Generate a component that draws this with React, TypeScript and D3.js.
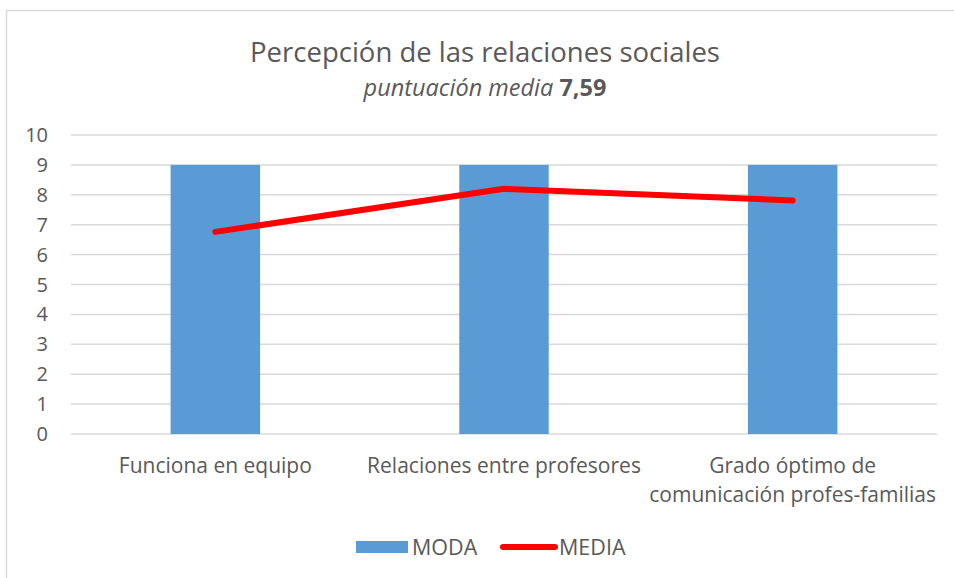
import React, { useEffect, useRef } from 'react'
import * as d3 from 'd3'

const categories = ['Funciona en equipo', 'Relaciones entre profesores', 'Grado óptimo de\ncomunicación profes-familias']
const moda = [9, 9, 9]
const media = [6.76, 8.2, 7.81]
const yTicks = [0, 1, 2, 3, 4, 5, 6, 7, 8, 9, 10]

const W = 954
const H = 578
const FONT = '"Open Sans", sans-serif'

export default function App () {
  const ref = useRef<SVGSVGElement>(null)

  useEffect(() => {
    const svg = d3.select(ref.current)
    svg.selectAll('*').remove()

    const margin = { top: 135, right: 17, bottom: 144, left: 71 }
    const innerW = W - margin.left - margin.right
    const innerH = H - margin.top - margin.bottom

    // chart frame (only top/left edges visible in original)
    svg.append('rect')
      .attr('x', 6.5).attr('y', 10.5)
      .attr('width', W + 10).attr('height', H + 10)
      .attr('fill', '#fff').attr('stroke', '#d9d9d9').attr('stroke-width', 1.5)

    svg.append('text')
      .attr('x', 485).attr('y', 62)
      .attr('text-anchor', 'middle')
      .attr('font-family', FONT).attr('font-size', 27.5)
      .attr('fill', '#595959')
      .text('Percepción de las relaciones sociales')

    const sub = svg.append('text')
      .attr('x', 485).attr('y', 96)
      .attr('text-anchor', 'middle')
      .attr('font-family', FONT).attr('font-size', 23.5)
      .attr('fill', '#595959')
    sub.append('tspan').attr('font-style', 'italic').text('puntuación media ')
    sub.append('tspan').attr('font-weight', 'bold').text('7,59')

    const g = svg.append('g').attr('transform', `translate(${margin.left},${margin.top})`)

    const x = d3.scaleBand().domain(categories).range([0, innerW]).paddingInner(0.69).paddingOuter(0.345)
    const y = d3.scaleLinear().domain([0, 10]).range([innerH, 0])

    g.selectAll('.grid')
      .data(yTicks)
      .enter()
      .append('line')
      .attr('x1', 0).attr('x2', innerW)
      .attr('y1', d => y(d)).attr('y2', d => y(d))
      .attr('stroke', '#d9d9d9').attr('stroke-width', 1.5)

    g.selectAll('.ytick')
      .data(yTicks)
      .enter()
      .append('text')
      .attr('x', -23).attr('y', d => y(d))
      .attr('dy', '0.35em')
      .attr('text-anchor', 'end')
      .attr('font-family', FONT).attr('font-size', 20)
      .attr('fill', '#595959')
      .text(d => d)

    g.selectAll('.bar')
      .data(moda)
      .enter()
      .append('rect')
      .attr('x', (d, i) => x(categories[i]) as number)
      .attr('y', d => y(d))
      .attr('width', x.bandwidth())
      .attr('height', d => innerH - y(d))
      .attr('fill', '#5b9bd5')

    const cx = (i: number) => (x(categories[i]) as number) + x.bandwidth() / 2
    const line = d3.line<number>().x((d, i) => cx(i)).y(d => y(d))
    g.append('path')
      .datum(media)
      .attr('d', line)
      .attr('fill', 'none')
      .attr('stroke', '#ff0000')
      .attr('stroke-width', 6)
      .attr('stroke-linecap', 'round')
      .attr('stroke-linejoin', 'round')

    categories.forEach((c, i) => {
      const t = g.append('text')
        .attr('x', cx(i)).attr('y', innerH + 39)
        .attr('text-anchor', 'middle')
        .attr('font-family', FONT).attr('font-size', 21)
        .attr('fill', '#595959')
      c.split('\n').forEach((part, j) => {
        t.append('tspan').attr('x', cx(i)).attr('dy', j === 0 ? 0 : 29).text(part)
      })
    })

    // legend
    const lg = svg.append('g')
    lg.append('rect').attr('x', 356).attr('y', 541).attr('width', 52).attr('height', 12).attr('fill', '#5b9bd5')
    lg.append('text').attr('x', 412).attr('y', 555)
      .attr('font-family', FONT).attr('font-size', 21.5).attr('fill', '#595959').text('MODA')
    lg.append('line').attr('x1', 503).attr('x2', 555).attr('y1', 547).attr('y2', 547)
      .attr('stroke', '#ff0000').attr('stroke-width', 6).attr('stroke-linecap', 'round')
    lg.append('text').attr('x', 559).attr('y', 555)
      .attr('font-family', FONT).attr('font-size', 21.5).attr('fill', '#595959').text('MEDIA')
  }, [])

  return (
    <svg ref={ref} width={W} height={H} style={{ position: 'absolute', left: 0, top: 0, background: '#fff' }} />
  )
}
